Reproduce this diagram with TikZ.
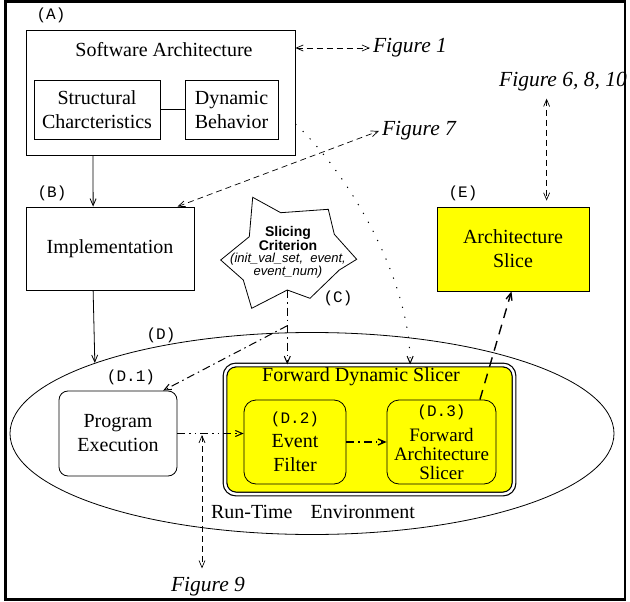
\documentclass[tikz,border=0pt]{standalone}
\usepackage{fontspec}
\setmainfont{Liberation Serif}
\setsansfont{Liberation Sans}
\setmonofont{Liberation Mono}
\usetikzlibrary{positioning,calc,shapes.geometric,arrows.meta}
\definecolor{slice-y}{RGB}{255,255,0}
\newcommand{\tagfont}{\fontsize{16}{18}\selectfont\ttfamily}
\newcommand{\critbf}{\fontsize{14}{17}\selectfont\bfseries}
\newcommand{\critit}{\fontsize{13}{17}\selectfont\itshape}

\begin{document}
\begin{tikzpicture}
[
x=1pt, y=-1pt,
>={Straight Barb[length=7pt,width=6pt]},
every node/.style={font=\fontsize{20}{24}\selectfont},
box-a/.style={rectangle, draw, line width=0.8pt, inner sep=0pt, align=center},
box-b/.style={rectangle, draw, line width=0.8pt, rounded corners=9pt, inner sep=0pt, align=center},
text-a/.style={align=center, inner sep=2pt},
tag-a/.style={font=\tagfont, inner sep=0pt},
fig-a/.style={font=\fontsize{21.5}{24}\selectfont\itshape, inner sep=3pt},
line-a/.style={line width=0.8pt},
link-a/.style={->, line width=0.8pt},
link-fig/.style={<->, line width=0.7pt, dash pattern=on 6pt off 4pt},
link-dot/.style={->, line width=1pt, dash pattern=on 1.2pt off 9pt},
link-dd/.style={->, line width=1pt, dash pattern=on 8pt off 4pt on 1.5pt off 4pt},
link-ddd/.style={->, line width=1pt, dash pattern=on 8pt off 4pt on 1.5pt off 4pt on 1.5pt off 4pt},
link-long/.style={->, line width=1.4pt, dash pattern=on 10pt off 7pt}
]
\useasboundingbox (0,0) rectangle (630,602);
\draw [line width=2.5pt] (5.5,1.5) rectangle (625,599.5);

\node (arch)      [box-a, minimum width=269pt, minimum height=125pt] at (160.5,92.5) {};
\node (arch-t)    [text-a]                                          at (164,50)    {Software Architecture};
\node (arch-tag)  [tag-a]                                           at (51,15)     {(A)};
\node (struct)    [box-a, minimum width=126pt, minimum height=59pt] at (97,109.5)  {Structural\\Charcteristics};
\node (dyn)       [box-a, minimum width=93pt,  minimum height=59pt] at (231.5,109.5) {Dynamic\\Behavior};
\node (impl)      [box-a, minimum width=168pt, minimum height=83pt] at (110,248.5) {Implementation};
\node (impl-tag)  [tag-a]                                           at (52,193)    {(B)};

\node (env)       [ellipse, draw, line width=0.8pt, inner sep=0pt, minimum width=604pt, minimum height=202pt] at (312,433.5) {};
\node (env-tag)   [tag-a]                                           at (161,335)   {(D)};
\node (env-t)     [text-a]                                          at (313,512)   {Run-Time\hspace{18pt}Environment};

\node (exec)      [box-b, minimum width=118pt, minimum height=85pt] at (118,433.5) {Program\\Execution};
\node (exec-tag)  [tag-a]                                           at (131,377)   {(D.1)};
\node (fds)       [box-b, fill=slice-y, double, double distance=2.5pt, line width=1.2pt, rounded corners=11pt,
                   minimum width=289pt, minimum height=129pt]       at (369.5,429.5) {};
\node (fds-t)     [text-a]                                          at (361,377)   {Forward Dynamic Slicer};
\node (filt)      [box-b, fill=slice-y, rounded corners=12pt, minimum width=102pt, minimum height=84pt]
                                                                    at (295,442)   {{\tagfont (D.2)}\\Event\\Filter};
\node (slcr)      [box-b, fill=slice-y, rounded corners=12pt, minimum width=109pt, minimum height=84pt,
                   font=\fontsize{19}{19}\selectfont]                at (441.5,442) {{\tagfont (D.3)}\\[6pt]Forward\\Architecture\\Slicer};

\node (slice)     [box-a, fill=slice-y, minimum width=152pt, minimum height=84pt] at (513,249) {Architecture\\Slice};
\node (slice-tag) [tag-a]                                           at (463,193)   {(E)};

\node (crit)      [text-a, font=\sffamily]                          at (288,252)   {{\critbf Slicing}\\{\critbf Criterion}\\{\critit (init\_val\_set,\ \ event,}\\{\critit event\_num)}};
\node (crit-tag)  [tag-a]                                           at (338,298)   {(C)};
\draw [line-a, shift={(crit.center)}]
  (-35.3,-54.7) -- (-7.3,-39.3) -- (40.3,-42.7) -- (46.3,-17.7) -- (68.7,7.3) -- (51.3,18)
  -- (22,46.3) -- (-0.7,38) coordinate (crit-tip) -- (-36.3,56.3) -- (-44.7,28) -- (-67.3,8) -- (-38.7,-15.3) -- cycle;

\node (fig1)      [fig-a]                                           at (410,48)    {Figure 1};
\node (fig7)      [fig-a]                                           at (419,131)   {Figure 7};
\node (fig6)      [fig-a]                                           at (563,82)    {Figure 6, 8, 10};
\node (fig9)      [fig-a]                                           at (208,587)   {Figure 9};

\coordinate (crit-fork) at ($(crit-tip)!0.48!(crit-tip |- fds.north)$);
\coordinate (probe)     at (202,435);
\coordinate (slice-in)  at ($(slice.north west)!0.72!(slice.north east)$);

\draw [line-a]   (struct) -- (dyn);
\draw [link-a]   ($(arch.south west)!0.25!(arch.south east)$) -- ($(impl.north west)!0.4!(impl.north east)$);
\draw [link-a]   ($(impl.south west)!0.4!(impl.south east)$) -- (env.162.4);
\draw [link-fig] (arch.east |- fig1.west) -- (fig1.west);
\draw [link-fig] ($(impl.north west)!0.9!(impl.north east)$) -- (fig7.west);
\draw [link-fig, shorten <=4pt, shorten >=6pt] (slice-in |- fig6.south) -- (slice-in);
\draw [link-fig, shorten >=6pt] (probe) -- (probe |- fig9.north);
\draw [link-dot] ($(arch.north east)!0.75!(arch.south east)$) .. controls (350,175) and (410,280) .. ($(fds.north west)!0.64!(fds.north east)$);
\draw [link-dd]  (crit-tip) -- (crit-tip |- fds.north);
\draw [link-dd]  (crit-fork) -- ($(exec.north west)!0.88!(exec.north east)$);
\draw [link-ddd] (exec.east) -- (exec.east -| filt.west);
\draw [link-dd, line width=1.3pt]  (filt.east) -- (slcr.west);
\draw [link-long] ($(slcr.north west)!0.85!(slcr.north east)$) -- ($(slice.south west)!0.49!(slice.south east)$);
\end{tikzpicture}
\end{document}
